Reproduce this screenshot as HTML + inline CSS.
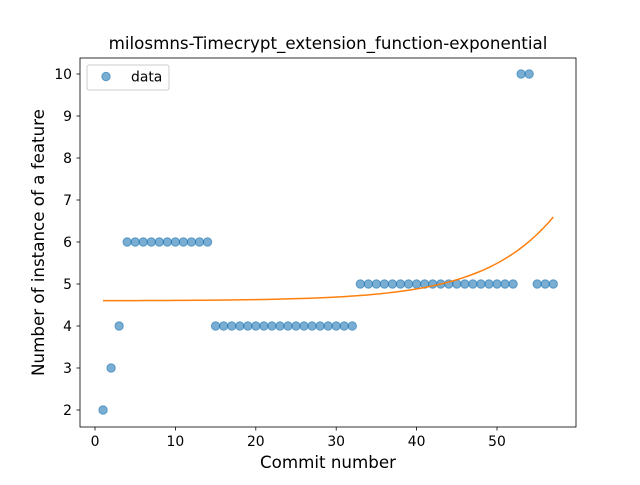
<!DOCTYPE html>
<html><head><meta charset="utf-8"><style>
body{margin:0;background:#fff}
svg text{font-family:"DejaVu Sans","Liberation Sans",sans-serif;fill:#000}
</style></head><body>
<svg id="chart" width="640" height="480" xmlns="http://www.w3.org/2000/svg">
<rect width="640" height="480" fill="#fff"/>
<text x="328" y="49" font-size="16.7" text-anchor="middle">milosmns-Timecrypt_extension_function-exponential</text>
<g id="plot"></g>
<rect x="80" y="58" width="496" height="369" fill="none" stroke="#000" stroke-width="0.8"/>
<text x="328" y="468" font-size="16.7" text-anchor="middle">Commit number</text>
<text transform="translate(44,242.5) rotate(-90)" font-size="16.7" text-anchor="middle">Number of instance of a feature</text>
<g>
<rect x="87" y="65" width="82" height="25" rx="2" fill="#fff" fill-opacity="0.8" stroke="#ccc" stroke-width="1"/>
<circle cx="106" cy="76.5" r="4.2" fill="#1f77b4" fill-opacity="0.6" stroke="#1f77b4" stroke-opacity="0.6"/>
<text x="131" y="81.5" font-size="13.9">data</text>
</g>
</svg>
<script>
const xs=[1,2,3,4,5,6,7,8,9,10,11,12,13,14,15,16,17,18,19,20,21,22,23,24,25,26,27,28,29,30,31,32,33,34,35,36,37,38,39,40,41,42,43,44,45,46,47,48,49,50,51,52,53,54,55,56,57];
const ys=[2,3,4,6,6,6,6,6,6,6,6,6,6,6,4,4,4,4,4,4,4,4,4,4,4,4,4,4,4,4,4,4,5,5,5,5,5,5,5,5,5,5,5,5,5,5,5,5,5,5,5,5,10,10,5,5,5];
const fitParams=[4.6,0.00284,0.115];
const xTicks=[0,10,20,30,40,50];
const yTicks=[2,3,4,5,6,7,8,9,10];
const NS="http://www.w3.org/2000/svg";
const X=v=>95+v*8.04;
const Y=v=>410-(v-2)*42;
const g=document.getElementById('plot');
function mk(t,a){const e=document.createElementNS(NS,t);for(const k in a)e.setAttribute(k,a[k]);g.appendChild(e);return e;}
xTicks.forEach(t=>{
 const l=mk('line',{x1:X(t),x2:X(t),y1:427,y2:430.5,stroke:'#000','stroke-width':0.8});
 
 
 const tx=mk('text',{x:X(t),y:446,'font-size':13.9,'text-anchor':'middle'});tx.textContent=t;
 
 
});
yTicks.forEach(t=>{
 const l=mk('line',{x1:76.5,x2:80,y1:Y(t),y2:Y(t),stroke:'#000','stroke-width':0.8});
 
 
 const tx=mk('text',{x:72,y:Y(t)+5,'font-size':13.9,'text-anchor':'end'});tx.textContent=t;
 
 
});
xs.forEach((x,i)=>{
 const c=mk('circle',{cx:X(x),cy:Y(ys[i]),r:4.2,fill:'#1f77b4','fill-opacity':0.6,stroke:'#1f77b4','stroke-opacity':0.6});
 
 
});
let d='';
const x0=xs[0],x1=xs[xs.length-1];
for(let i=0;i<=100;i++){const x=x0+(x1-x0)*i/100;const y=fitParams[0]+fitParams[1]*Math.exp(fitParams[2]*x);d+=(i?'L':'M')+X(x).toFixed(2)+','+Y(y).toFixed(2);}
const p=mk('path',{d:d,fill:'none',stroke:'#ff7f0e','stroke-width':1.5});


</script>
</body></html>
